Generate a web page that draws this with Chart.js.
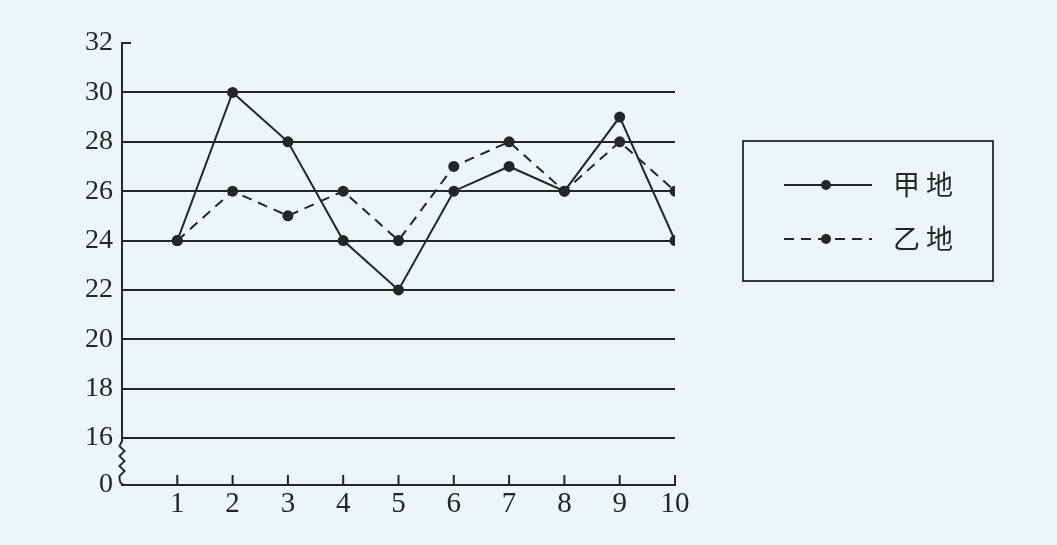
<!DOCTYPE html>
<html>
<head>
<meta charset="utf-8">
<script src="https://cdn.jsdelivr.net/npm/chart.js@4/dist/chart.umd.min.js"></script>
<style>
  html, body { margin:0; padding:0; background:#eef5f8; }
  #wrap { width:1057px; height:545px; position:relative; }
</style>
</head>
<body>
<div id="wrap"><canvas id="c" width="1057" height="545"></canvas></div>
<script>
// ---- data ----
const xValues = [1, 2, 3, 4, 5, 6, 7, 8, 9, 10];
const jiaValues = [24, 30, 28, 24, 22, 26, 27, 26, 29, 24];
const yiValues  = [24, 26, 25, 26, 24, 27, 28, 26, 28, 26];
const yTickValues = [16, 18, 20, 22, 24, 26, 28, 30, 32];
const seriesNames = ['甲地', '乙地'];
const yBreakValue = 14.1;   // position of the "0" label below the axis break
const yBreakLabel = '0';

const ink = '#262626';
const serif = "'Liberation Serif', 'DejaVu Serif', serif";
const cjk = "'Noto Sans CJK SC', sans-serif";

const decor = {
  id: 'decor',
  afterDraw(chart) {
    const { ctx, scales: { x, y } } = chart;
    const ax = x.getPixelForValue(0);
    const top = y.getPixelForValue(32);
    const y16 = y.getPixelForValue(16);
    const y0 = y.getPixelForValue(yBreakValue);
    ctx.save();
    ctx.strokeStyle = ink;
    ctx.lineWidth = 2;
    // y axis with break
    ctx.beginPath();
    ctx.moveTo(ax + 9, top);
    ctx.lineTo(ax, top);
    ctx.lineTo(ax, y16 + 3);
    let yy = y16 + 3, dir = -1;
    while (yy < y0 - 12) {
      yy += 5;
      ctx.lineTo(ax + dir * 2.5, yy);
      dir = -dir;
    }
    ctx.quadraticCurveTo(ax - 3, y0, ax + 3, y0);
    ctx.stroke();
    // x ticks pointing up
    ctx.beginPath();
    xValues.forEach(v => {
      const px = x.getPixelForValue(v);
      ctx.moveTo(px, y0);
      ctx.lineTo(px, y0 - 10);
    });
    ctx.stroke();

    // legend box
    const bx = 743, by = 141, bw = 250, bh = 140;
    ctx.lineWidth = 1.8;
    ctx.strokeRect(bx, by, bw, bh);
    chart.data.datasets.forEach((ds, i) => {
      const ly = 185 + i * 54;
      ctx.beginPath();
      ctx.lineWidth = 2;
      ctx.strokeStyle = ink;
      ctx.setLineDash(ds.borderDash || []);
      ctx.moveTo(784, ly);
      ctx.lineTo(872, ly);
      ctx.stroke();
      ctx.setLineDash([]);
      ctx.beginPath();
      ctx.fillStyle = ink;
      ctx.arc(826, ly, 5, 0, Math.PI * 2);
      ctx.fill();
      ctx.font = '27px ' + cjk;
      ctx.textBaseline = 'middle';
      ctx.textAlign = 'left';
      if ('letterSpacing' in ctx) ctx.letterSpacing = '6px';
      ctx.fillText(ds.label, 893, ly);
      if ('letterSpacing' in ctx) ctx.letterSpacing = '0px';
    });
    ctx.restore();
  }
};

new Chart(document.getElementById('c'), {
  type: 'line',
  data: {
    datasets: [
      {
        label: seriesNames[0],
        data: xValues.map((v, i) => ({ x: v, y: jiaValues[i] })),
        borderColor: ink, borderWidth: 2,
        pointRadius: 5.5, pointBackgroundColor: ink, pointBorderWidth: 0,
        tension: 0
      },
      {
        label: seriesNames[1],
        data: xValues.map((v, i) => ({ x: v, y: yiValues[i] })),
        borderColor: ink, borderWidth: 2, borderDash: [10, 7],
        pointRadius: 5.5, pointBackgroundColor: ink, pointBorderWidth: 0,
        tension: 0
      }
    ]
  },
  options: {
    responsive: false,
    animation: false,
    layout: { padding: { top: 43, right: 382, left: 0, bottom: 0 } },
    plugins: { legend: { display: false }, tooltip: { enabled: false } },
    scales: {
      x: {
        type: 'linear', min: 0, max: 10,
        afterFit: s => { s.height = 60; },
        grid: { display: false, drawTicks: false },
        border: { display: true, color: ink, width: 2 },
        ticks: {
          stepSize: 1, padding: 2, color: ink,
          font: { family: serif, size: 29 },
          callback: v => (v === 0 ? '' : String(v))
        }
      },
      y: {
        type: 'linear', min: yBreakValue, max: 32,
        afterFit: s => { s.width = 122; },
        afterBuildTicks: s => { s.ticks = [yBreakValue, ...yTickValues].map(v => ({ value: v })); },
        grid: {
          drawTicks: false, lineWidth: 2,
          color: c => (c.tick && (c.tick.value === 32 || c.tick.value === yBreakValue)) ? 'rgba(0,0,0,0)' : ink
        },
        border: { display: false },
        ticks: {
          padding: 9, color: ink,
          font: { family: serif, size: 28 },
          callback: v => (v === yBreakValue ? yBreakLabel : String(v))
        }
      }
    }
  },
  plugins: [decor]
});
</script>
</body>
</html>
